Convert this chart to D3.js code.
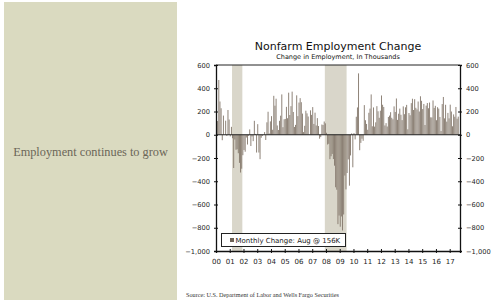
<!DOCTYPE html>
<html>
<head>
<meta charset="utf-8">
<script src="https://cdn.jsdelivr.net/npm/d3@7"></script>
<style>
  body { margin: 0; background: #fff; }
  svg { display: block; }
</style>
</head>
<body>
<div id="chart"></div>
<script>
// monthly nonfarm payroll change, thousands, Jan 2000 .. Aug 2017
var y2000 = [249, 118, 471, 286, 228, -47, 165, 0, 121, -10, 213, 131];
var y2001 = [-14, 68, -30, -286, -41, -129, -125, -159, -242, -325, -292, -176];
var y2002 = [-131, -146, -24, -84, -9, 46, -97, -15, -55, 120, 7, -153];
var y2003 = [91, -153, -210, -26, -10, -1, 23, -45, 107, 198, 11, 115];
var y2004 = [160, 43, 335, 250, 310, 80, 41, 120, 164, 347, 65, 133];
var y2005 = [136, 240, 142, 362, 170, 246, 371, 196, 67, 85, 339, 160];
var y2006 = [277, 315, 280, 182, 23, 77, 207, 184, 157, 2, 210, 171];
var y2007 = [238, 93, 190, 80, 143, 75, -34, -20, 88, 84, 114, 98];
var y2008 = [17, -84, -78, -210, -185, -165, -209, -266, -452, -473, -769, -695];
var y2009 = [-791, -703, -823, -686, -351, -470, -329, -212, -438, -178, 12, -280];
var y2010 = [14, -40, 155, 235, 528, -133, -70, -34, -52, 255, 125, 93];
var y2011 = [43, 189, 225, 347, 73, 235, 70, 107, 246, 202, 146, 207];
var y2012 = [338, 258, 239, 80, 100, 71, 153, 165, 194, 146, 133, 244];
var y2013 = [196, 312, 128, 181, 225, 172, 126, 244, 177, 236, 257, 47];
var y2014 = [187, 168, 272, 310, 213, 306, 232, 218, 286, 200, 331, 292];
var y2015 = [221, 265, 84, 251, 273, 228, 277, 150, 149, 295, 231, 249];
var y2016 = [125, 237, 225, 153, 32, 264, 325, 141, 258, 113, 188, 141];
var y2017 = [259, 200, 73, 175, 155, 239, 138, 156];

var recessions = [[2001 + 2/12, 2001 + 11/12], [2007 + 11/12, 2009 + 6/12]];
var yTicks = [-1000, -800, -600, -400, -200, 0, 200, 400, 600];
var yearTicks = d3.range(2000, 2018);

var monthly = [].concat(y2000, y2001, y2002, y2003, y2004, y2005, y2006, y2007, y2008,
                        y2009, y2010, y2011, y2012, y2013, y2014, y2015, y2016, y2017);

var W = 494, H = 304;
var svg = d3.select("#chart").append("svg").attr("width", W).attr("height", H);

// left panel
svg.append("rect").attr("x", 4).attr("y", 2).attr("width", 173).attr("height", 298)
   .style("fill", "#dadac0");
svg.append("text").attr("x", 90.5).attr("y", 156).attr("text-anchor", "middle")
   .style("font-family", "'Liberation Serif', serif").style("font-size", "12.3px")
   .style("fill", "#6b6658").text("Employment continues to grow");

// chart
var pl = 216, pr = 460, pt = 65, pb = 251;
var x = d3.scaleLinear().domain([2000, 2017.75]).range([pl, pr]);
var y = d3.scaleLinear().domain([-1000, 600]).range([pb, pt]);
var bw = x(2000 + 1/12) - x(2000);

svg.selectAll(".rec").data(recessions).enter().append("rect")
   .attr("class", "rec")
   .attr("x", d => x(d[0])).attr("width", d => x(d[1]) - x(d[0]))
   .attr("y", pt).attr("height", pb - pt)
   .style("fill", "#d9d6ca");

svg.selectAll(".bar").data(monthly).enter().append("rect")
   .attr("class", "bar")
   .attr("x", (d, i) => x(2000 + i/12) + bw*0.05)
   .attr("width", bw*0.8)
   .attr("y", d => y(Math.max(0, d)))
   .attr("height", d => Math.abs(y(d) - y(0)))
   .style("fill", "#85796d");

// zero line
svg.append("line").attr("x1", pl).attr("x2", pr).attr("y1", y(0)).attr("y2", y(0))
   .style("stroke", "#222").style("stroke-width", 1);
// top border
svg.append("line").attr("x1", pl).attr("x2", pr).attr("y1", pt).attr("y2", pt)
   .style("stroke", "#222").style("stroke-width", 1);

var fmt = d3.format(",");
var yl = svg.append("g").attr("transform", "translate(" + pl + ",0)")
   .call(d3.axisLeft(y).tickValues(yTicks).tickFormat(fmt).tickSize(2).tickPadding(4));
var yr = svg.append("g").attr("transform", "translate(" + pr + ",0)")
   .call(d3.axisRight(y).tickValues(yTicks).tickFormat(fmt).tickSize(2).tickPadding(4));
var xa = svg.append("g").attr("transform", "translate(0," + pb + ")")
   .call(d3.axisBottom(x).tickValues(yearTicks).tickFormat(d => d3.format("02")(d % 100))
          .tickSize(2).tickPadding(6));

[yl, yr, xa].forEach(function(g) {
  g.select(".domain").style("stroke", "#111").style("stroke-width", 1.3);
  g.selectAll(".tick line").style("stroke", "#111").style("stroke-width", 1);
  g.selectAll("text").style("font-family", "'DejaVu Sans', sans-serif")
   .style("font-size", "6.7px").style("fill", "#222");
});
yl.selectAll(".tick line").attr("x1", 2);
yr.selectAll(".tick line").attr("x1", -2);
xa.selectAll(".tick line").attr("y1", -2);
xa.selectAll("text").style("font-size", "7px");

// titles
svg.append("text").attr("x", 338).attr("y", 50).attr("text-anchor", "middle")
   .style("font-family", "'DejaVu Sans', sans-serif").style("font-size", "11px")
   .style("fill", "#111").text("Nonfarm Employment Change");
svg.append("text").attr("x", 338).attr("y", 58.5).attr("text-anchor", "middle")
   .style("font-family", "'DejaVu Sans', sans-serif").style("font-size", "6.5px")
   .style("fill", "#111").text("Change in Employment, In Thousands");

// legend
svg.append("rect").attr("x", 221.5).attr("y", 233.5).attr("width", 124).attr("height", 13)
   .style("fill", "#fff").style("stroke", "#222").style("stroke-width", 1);
svg.append("rect").attr("x", 230).attr("y", 238).attr("width", 4).attr("height", 4)
   .style("fill", "#6e6357");
svg.append("text").attr("x", 235.5).attr("y", 242.5)
   .style("font-family", "'DejaVu Sans', sans-serif").style("font-size", "7px")
   .style("fill", "#222").text("Monthly Change: Aug @ 156K");

// source
svg.append("text").attr("x", 186).attr("y", 297)
   .style("font-family", "'Liberation Serif', serif").style("font-size", "6.2px")
   .style("fill", "#333").text("Source: U.S. Department of Labor and Wells Fargo Securities");
</script>
</body>
</html>
